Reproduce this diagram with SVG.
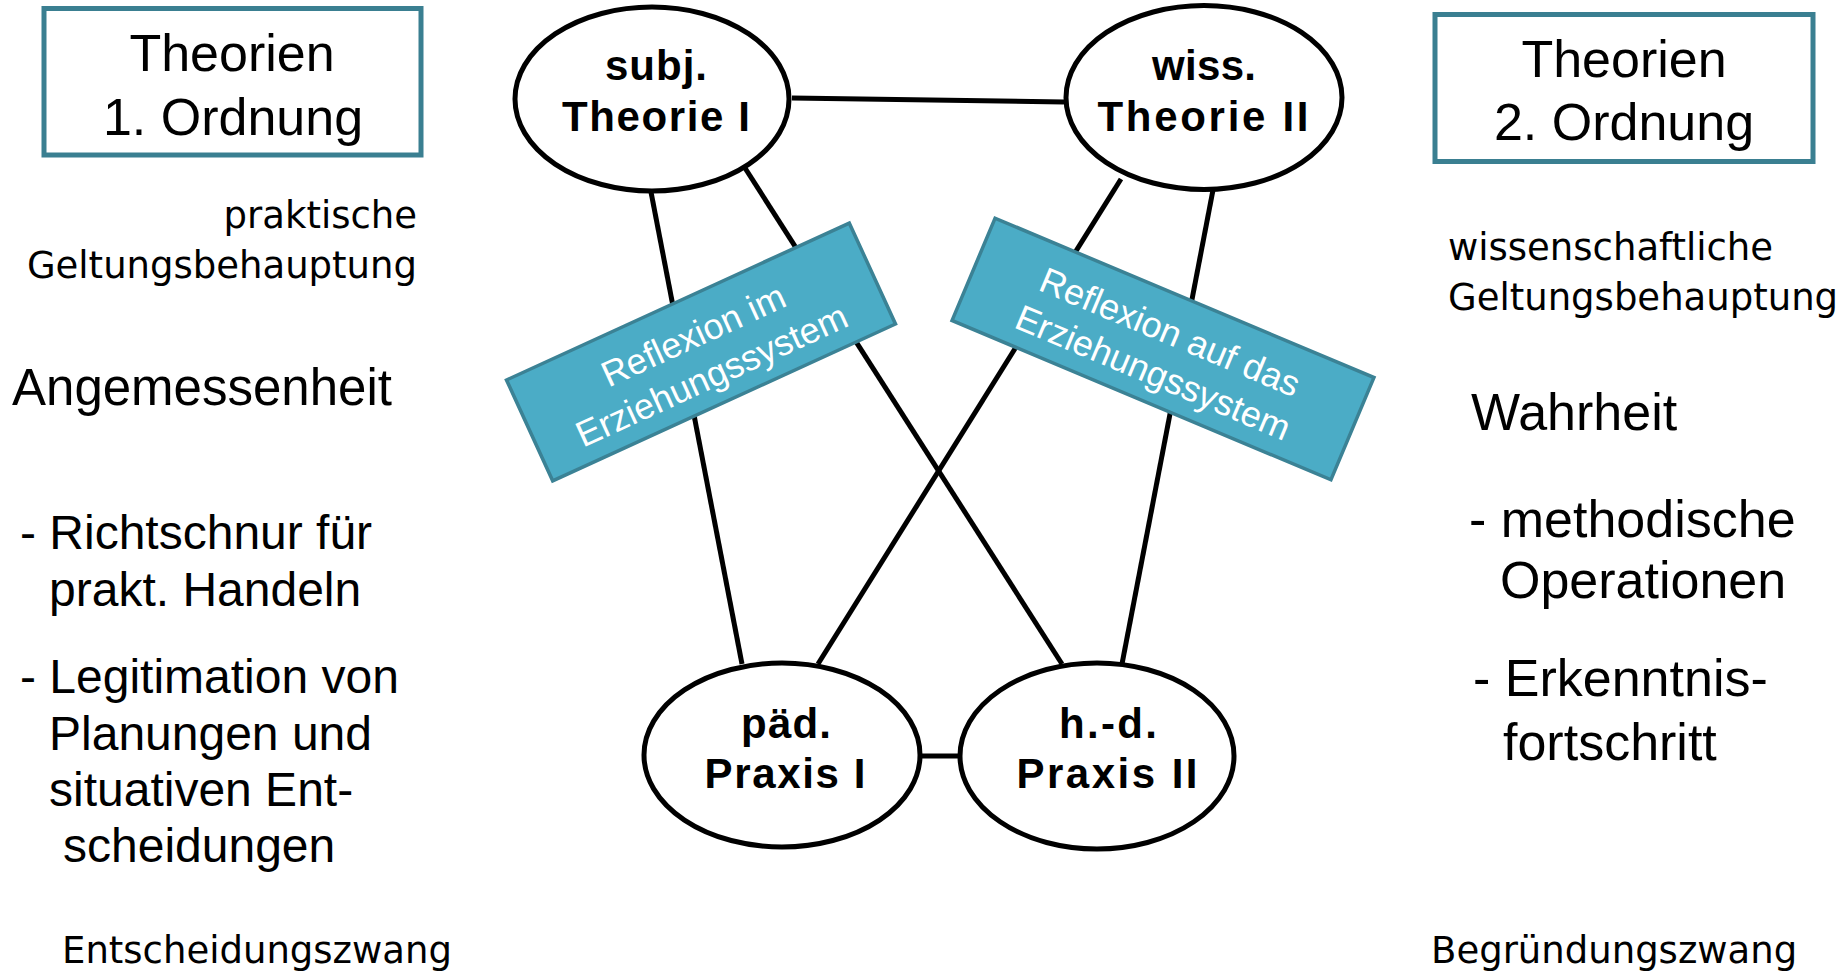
<svg xmlns="http://www.w3.org/2000/svg" width="1847" height="973" viewBox="0 0 1847 973">
<style>
.bg{fill:#ffffff}
.box{fill:#ffffff;stroke:#3A7F91;stroke-width:5}
.boxt{font-family:"Liberation Sans",Arial,sans-serif;font-size:52px;fill:#000;text-anchor:middle}
.node{fill:#ffffff;stroke:#000;stroke-width:5}
.nt{font-family:"Liberation Sans",Arial,sans-serif;font-weight:bold;font-size:42px;fill:#000;text-anchor:middle}
.conn{stroke:#000;stroke-width:5;fill:none}
.band{fill:#4BACC6;stroke:#3B8295;stroke-width:3.5}
.bt{font-family:"Liberation Sans",Arial,sans-serif;font-size:36px;fill:#fff;text-anchor:middle}
.sm{font-family:"DejaVu Sans",Verdana,sans-serif;font-size:37px;fill:#000}
.big{font-family:"Liberation Sans",Arial,sans-serif;font-size:51px;fill:#000}
.it{font-family:"Liberation Sans",Arial,sans-serif;font-size:48px;fill:#000}
.itr{font-family:"Liberation Sans",Arial,sans-serif;font-size:52px;fill:#000}
</style>
<rect class="bg" x="0" y="0" width="1847" height="973"/>

<g id="connectors">
<line class="conn" x1="792" y1="98" x2="1064" y2="102"/>
<line class="conn" x1="651" y1="192" x2="742" y2="664"/>
<line class="conn" x1="745" y1="168" x2="1062" y2="664"/>
<line class="conn" x1="1121" y1="179" x2="818" y2="664"/>
<line class="conn" x1="1213" y1="190" x2="1122" y2="664"/>
<line class="conn" x1="918" y1="756" x2="961" y2="756" stroke-width="7"/>
</g>

<g id="box-theorien-1">
<rect class="box" x="44" y="8.5" width="377" height="146.5"/>
<text class="boxt" x="232" y="71">Theorien</text>
<text class="boxt" x="233" y="135">1. Ordnung</text>
</g>

<g id="box-theorien-2">
<rect class="box" x="1435" y="14.5" width="378" height="147"/>
<text class="boxt" x="1624" y="77">Theorien</text>
<text class="boxt" x="1624" y="140">2. Ordnung</text>
</g>

<g id="band-reflexion-im">
<g transform="translate(701 352) rotate(-24.6)">
<rect class="band" x="-188.5" y="-55.5" width="377" height="111"/>
<text class="bt" x="0" y="-6">Reflexion im</text>
<text class="bt" x="0" y="38">Erziehungssystem</text>
</g>
</g>

<g id="band-reflexion-auf">
<g transform="translate(1163 349) rotate(22.8)">
<rect class="band" x="-205.5" y="-55.5" width="411" height="111"/>
<text class="bt" x="0" y="-6">Reflexion auf das</text>
<text class="bt" x="0" y="38">Erziehungssystem</text>
</g>
</g>

<g id="node-subj-theorie">
<ellipse class="node" cx="652" cy="99" rx="137" ry="92"/>
<text class="nt" x="656" y="80" textLength="102" lengthAdjust="spacing">subj.</text>
<text class="nt" x="656" y="131" textLength="188" lengthAdjust="spacing">Theorie I</text>
</g>

<g id="node-wiss-theorie">
<ellipse class="node" cx="1204" cy="97.5" rx="138" ry="92"/>
<text class="nt" x="1204" y="80" textLength="104" lengthAdjust="spacing">wiss.</text>
<text class="nt" x="1203" y="131" textLength="211" lengthAdjust="spacing">Theorie II</text>
</g>

<g id="node-paed-praxis">
<ellipse class="node" cx="782" cy="755" rx="138" ry="92"/>
<text class="nt" x="786" y="738" textLength="90" lengthAdjust="spacing">päd.</text>
<text class="nt" x="785" y="788" textLength="161" lengthAdjust="spacing">Praxis I</text>
</g>

<g id="node-hd-praxis">
<ellipse class="node" cx="1097" cy="756" rx="137" ry="93"/>
<text class="nt" x="1108" y="738" textLength="98" lengthAdjust="spacing">h.-d.</text>
<text class="nt" x="1107" y="788" textLength="181" lengthAdjust="spacing">Praxis II</text>
</g>

<g id="left-text">
<text class="sm" x="417" y="228" text-anchor="end">praktische</text>
<text class="sm" x="417" y="278" text-anchor="end">Geltungsbehauptung</text>
<text class="big" x="12" y="405">Angemessenheit</text>
<text class="it" x="20" y="549">- Richtschnur für</text>
<text class="it" x="49" y="606">prakt. Handeln</text>
<text class="it" x="20" y="693">- Legitimation von</text>
<text class="it" x="49" y="750">Planungen und</text>
<text class="it" x="49" y="806">situativen Ent-</text>
<text class="it" x="63" y="862">scheidungen</text>
<text class="sm" x="62" y="963">Entscheidungszwang</text>
</g>

<g id="right-text">
<text class="sm" x="1448" y="260">wissenschaftliche</text>
<text class="sm" x="1448" y="310">Geltungsbehauptung</text>
<text class="itr" x="1471" y="430">Wahrheit</text>
<text class="itr" x="1469" y="537">- methodische</text>
<text class="itr" x="1500" y="598">Operationen</text>
<text class="itr" x="1473" y="696">- Erkenntnis-</text>
<text class="itr" x="1503" y="760">fortschritt</text>
<text class="sm" x="1431" y="963">Begründungszwang</text>
</g>
</svg>
